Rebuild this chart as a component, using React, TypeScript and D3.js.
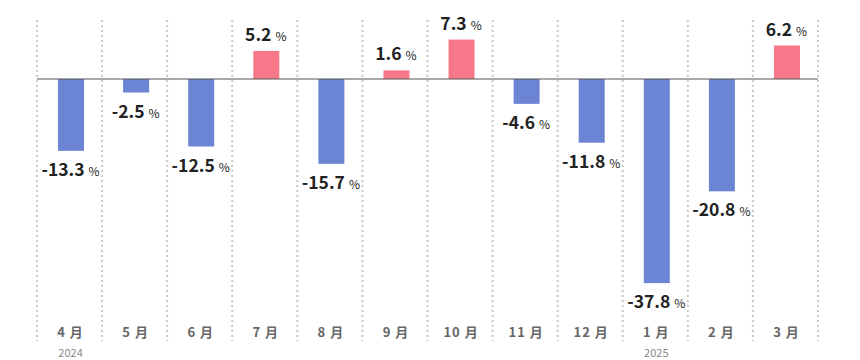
import React from "react";
import * as d3 from "d3";

const months = ["4 月", "5 月", "6 月", "7 月", "8 月", "9 月", "10 月", "11 月", "12 月", "1 月", "2 月", "3 月"];
const values = [-13.3, -2.5, -12.5, 5.2, -15.7, 1.6, 7.3, -4.6, -11.8, -37.8, -20.8, 6.2];
const yearLabels = [
  { index: 0, label: "2024" },
  { index: 9, label: "2025" },
];

const W = 860;
const H = 360;
const FONT = "'Noto Sans CJK JP', 'Noto Sans', sans-serif";

export default function App() {
  const x = d3.scaleBand<string>().domain(months).range([37, 818]).paddingInner(0).paddingOuter(0);
  const y = d3.scaleLinear().domain([-48, 11]).range([338.2, 19.6]);
  const bw = 26;
  const bars = months.map((m, i) => ({ m, v: values[i], cx: (x(m) as number) + x.bandwidth() / 2 }));
  const edges = [...months.map((m) => x(m) as number), 818];

  return (
    <svg width={W} height={H} style={{ position: "absolute", left: 0, top: 0, background: "#fff" }} fontFamily={FONT}>
      {edges.map((e, i) => (
        <line key={i} x1={e} x2={e} y1={20} y2={341} stroke="#c8c8c8" strokeWidth={2} strokeDasharray="2,3" />
      ))}
      {bars.map((b, i) => (
        <rect
          key={i}
          x={b.cx - bw / 2 + 1.5}
          width={bw}
          y={Math.min(y(b.v), y(0))}
          height={Math.abs(y(b.v) - y(0))}
          fill={b.v >= 0 ? "#f77889" : "#6b84d3"}
        />
      ))}
      <line x1={37} x2={818} y1={y(0)} y2={y(0)} stroke="#555" strokeWidth={1.2} />
      {bars.map((b, i) => (
        <text
          key={i}
          x={b.cx + 1}
          y={b.v >= 0 ? y(b.v) - 10 : y(b.v) + 25}
          textAnchor="middle"
          fill="#222"
        >
          <tspan fontSize={17.5} fontWeight="bold">{b.v.toFixed(1)}</tspan>
          <tspan fontSize={12} dx={4}>%</tspan>
        </text>
      ))}
      {bars.map((b, i) => (
        <text key={i} x={b.cx + 1} y={336.5} textAnchor="middle" fontSize={13} fontWeight="bold" fill="#666" letterSpacing={1}>
          {b.m}
        </text>
      ))}
      {yearLabels.map((yl, i) => (
        <text key={i} x={bars[yl.index].cx + 1} y={357} textAnchor="middle" fontSize={11} fill="#888">
          {yl.label}
        </text>
      ))}
    </svg>
  );
}
